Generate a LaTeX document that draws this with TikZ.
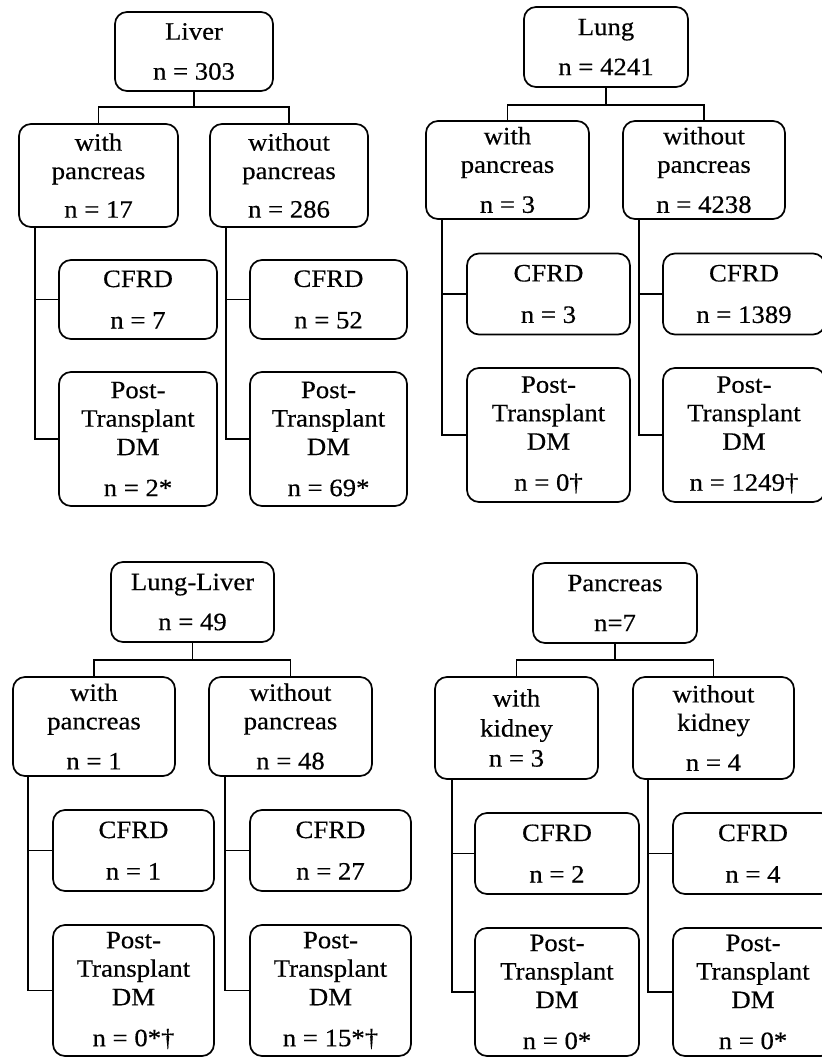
\documentclass[tikz,border=0pt]{standalone}
\usepackage{fontspec}
\setmainfont{Liberation Serif}[FakeStretch=1.07,FakeBold=0.4]
\begin{document}
\begin{tikzpicture}[x=1pt,y=-1pt,
  box/.style={draw, rounded corners=12pt, line width=1.7pt, align=center, inner sep=0pt,
    font=\fontsize{25}{28.5}\selectfont},
  conn/.style={line width=1.7pt}]
\useasboundingbox (0,0) rectangle (822,1061);
\clip (0,0) rectangle (822,1061);
% ---------------- Liver ----------------
\node[box, minimum width=158pt, minimum height=79pt] (liver) at (194,51.5) {Liver\\[11.5pt]n = 303};
\node[box, minimum width=159pt, minimum height=103pt] (withA) at (98.5,175.5) {with\\pancreas\\[10pt]n = 17};
\node[box, minimum width=158pt, minimum height=103pt] (woA) at (289,175.5) {without\\pancreas\\[10pt]n = 286};
\node[box, minimum width=158pt, minimum height=79pt] (cfrdA1) at (138,299.5) {CFRD\\[13pt]n = 7};
\node[box, minimum width=157pt, minimum height=79pt] (cfrdA2) at (328.5,299.5) {CFRD\\[13pt]n = 52};
\node[box, minimum width=158pt, minimum height=134pt] (postA1) at (138,439) {Post-\\Transplant\\DM\\[12.5pt]n = 2*};
\node[box, minimum width=157pt, minimum height=134pt] (postA2) at (328.5,439) {Post-\\Transplant\\DM\\[12.5pt]n = 69*};
\coordinate (barA) at (194,107);
\draw[conn] (liver.south) -- (barA);
\draw[conn] (withA.north) |- (barA) -| (woA.north);
\draw[conn] ([xshift=17pt]withA.south west) |- (cfrdA1.west);
\draw[conn] ([xshift=17pt]withA.south west) |- (postA1.west);
\draw[conn] ([xshift=17pt]woA.south west) |- (cfrdA2.west);
\draw[conn] ([xshift=17pt]woA.south west) |- (postA2.west);
% ---------------- Lung ----------------
\node[box, minimum width=164pt, minimum height=80pt] (lung) at (606,47) {Lung\\[11.5pt]n = 4241};
\node[box, minimum width=163pt, minimum height=98pt] (withB) at (507.5,170) {with\\pancreas\\[11.5pt]n = 3};
\node[box, minimum width=162pt, minimum height=98pt] (woB) at (704,170) {without\\pancreas\\[11.5pt]n = 4238};
\node[box, minimum width=163pt, minimum height=81pt] (cfrdB1) at (548.5,294) {CFRD\\[13pt]n = 3};
\node[box, minimum width=162pt, minimum height=81pt] (cfrdB2) at (744,294) {CFRD\\[13pt]n = 1389};
\node[box, minimum width=163pt, minimum height=134pt] (postB1) at (548.5,435) {Post-\\Transplant\\DM\\[12.5pt]n = 0†};
\node[box, minimum width=162pt, minimum height=134pt] (postB2) at (744,435) {Post-\\Transplant\\DM\\[12.5pt]n = 1249†};
\coordinate (barB) at (606,105);
\draw[conn] (lung.south) -- (barB);
\draw[conn] (withB.north) |- (barB) -| (woB.north);
\draw[conn] ([xshift=17pt]withB.south west) |- (cfrdB1.west);
\draw[conn] ([xshift=17pt]withB.south west) |- (postB1.west);
\draw[conn] ([xshift=17pt]woB.south west) |- (cfrdB2.west);
\draw[conn] ([xshift=17pt]woB.south west) |- (postB2.west);
% ---------------- Lung-Liver ----------------
\node[box, minimum width=163pt, minimum height=80pt] (ll) at (192.5,602) {Lung-Liver\\[11.5pt]n = 49};
\node[box, minimum width=162pt, minimum height=99pt] (withC) at (94,726.5) {with\\pancreas\\[11.5pt]n = 1};
\node[box, minimum width=163pt, minimum height=99pt] (woC) at (290.5,726.5) {without\\pancreas\\[11.5pt]n = 48};
\node[box, minimum width=161pt, minimum height=81pt] (cfrdC1) at (133.5,850.5) {CFRD\\[13pt]n = 1};
\node[box, minimum width=161pt, minimum height=81pt] (cfrdC2) at (330.5,850.5) {CFRD\\[13pt]n = 27};
\node[box, minimum width=161pt, minimum height=131pt] (postC1) at (133.5,990.5) {Post-\\Transplant\\DM\\[12.5pt]n = 0*†};
\node[box, minimum width=161pt, minimum height=131pt] (postC2) at (330.5,990.5) {Post-\\Transplant\\DM\\[12.5pt]n = 15*†};
\coordinate (barC) at (192.5,660);
\draw[conn] (ll.south) -- (barC);
\draw[conn] (withC.north) |- (barC) -| (woC.north);
\draw[conn] ([xshift=16pt]withC.south west) |- (cfrdC1.west);
\draw[conn] ([xshift=16pt]withC.south west) |- (postC1.west);
\draw[conn] ([xshift=17pt]woC.south west) |- (cfrdC2.west);
\draw[conn] ([xshift=17pt]woC.south west) |- (postC2.west);
% ---------------- Pancreas ----------------
\node[box, minimum width=164pt, minimum height=80pt] (panc) at (615,603) {Pancreas\\[11.5pt]n=7};
\node[box, minimum width=163pt, minimum height=102pt] (withD) at (516.5,728) {with\\[1.5pt]kidney\\[1.5pt]n = 3};
\node[box, minimum width=161pt, minimum height=102pt] (woD) at (713.5,728) {without\\kidney\\[11.5pt]n = 4};
\node[box, minimum width=164pt, minimum height=81pt] (cfrdD1) at (557,853.5) {CFRD\\[13pt]n = 2};
\node[box, minimum width=160pt, minimum height=81pt] (cfrdD2) at (753,853.5) {CFRD\\[13pt]n = 4};
\node[box, minimum width=164pt, minimum height=128pt] (postD1) at (557,992) {Post-\\Transplant\\DM\\[12.5pt]n = 0*};
\node[box, minimum width=160pt, minimum height=128pt] (postD2) at (753,992) {Post-\\Transplant\\DM\\[12.5pt]n = 0*};
\coordinate (barD) at (615,660);
\draw[conn] (panc.south) -- (barD);
\draw[conn] (withD.north) |- (barD) -| (woD.north);
\draw[conn] ([xshift=18pt]withD.south west) |- (cfrdD1.west);
\draw[conn] ([xshift=18pt]withD.south west) |- (postD1.west);
\draw[conn] ([xshift=16pt]woD.south west) |- (cfrdD2.west);
\draw[conn] ([xshift=16pt]woD.south west) |- (postD2.west);
\end{tikzpicture}
\end{document}
